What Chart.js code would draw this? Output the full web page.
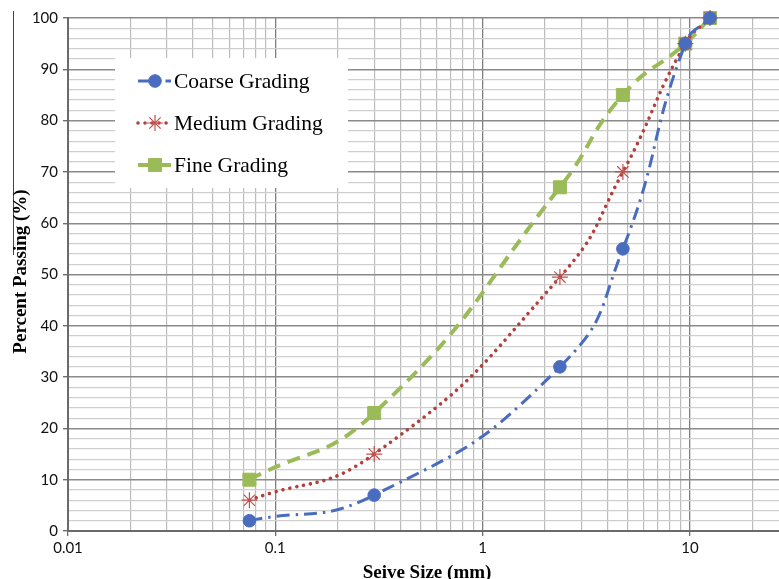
<!DOCTYPE html>
<html><head><meta charset="utf-8">
<script src="https://cdn.jsdelivr.net/npm/chart.js@4.4.1/dist/chart.umd.min.js"></script>
<style>html,body{margin:0;padding:0;background:#fff;overflow:hidden}</style>
</head><body>
<canvas id="c" width="779" height="579" style="display:block;width:779px;height:579px"></canvas>
<script>
// ---- data ----
const sieveSizes = [0.075, 0.3, 2.36, 4.75, 9.5, 12.5];
const coarseGrading = [2, 7, 32, 55, 95, 100];
const mediumGrading = [6, 15, 49.5, 70, 95, 100];
const fineGrading = [10, 23, 67, 85, 95, 100];
const seriesNames = ['Coarse Grading', 'Medium Grading', 'Fine Grading'];
const xTickValues = [0.01,0.02,0.03,0.04,0.05,0.06,0.07,0.08,0.09,
  0.1,0.2,0.3,0.4,0.5,0.6,0.7,0.8,0.9,
  1,2,3,4,5,6,7,8,9,
  10,20];
const xTickLabels = ['0.01', '0.1', '1', '10'];
const yTickLabels = [0, 10, 20, 30, 40, 50, 60, 70, 80, 90, 100];
const xTitle = 'Seive Size (mm)';
const yTitle = 'Percent Passing (%)';

const pts = vals => sieveSizes.map((x, i) => ({x, y: vals[i]}));
const isDecade = v => Math.abs(Math.log10(v) - Math.round(Math.log10(v))) < 1e-9;

const BLUE = '#4a6cbf', RED = '#b1403c', GREEN = '#9bbb59';

const datasets = [
  {label: seriesNames[0], data: pts(coarseGrading), borderColor: BLUE, borderWidth: 3,
   borderDash: [13, 6, 2.5, 6], borderCapStyle: 'butt',
   pointStyle: 'circle', pointRadius: 6.3, pointBackgroundColor: BLUE, pointBorderColor: BLUE, pointBorderWidth: 1},
  {label: seriesNames[1], data: pts(mediumGrading), borderColor: RED, borderWidth: 3.6,
   borderDash: [0.01, 7], borderCapStyle: 'round',
   pointStyle: 'star', pointRadius: 8, pointBackgroundColor: RED, pointBorderColor: '#c0504d', pointBorderWidth: 1.2},
  {label: seriesNames[2], data: pts(fineGrading), borderColor: GREEN, borderWidth: 4,
   borderDash: [13, 8], borderCapStyle: 'butt',
   pointStyle: 'rect', pointRadius: 9.2, pointBackgroundColor: GREEN, pointBorderColor: GREEN, pointBorderWidth: 1}
];
datasets.forEach(d => { d.tension = 0.5; d.clip = false; d.fill = false; d.capBezierPoints = false; });

const decorPlugin = {
  id: 'decor',
  afterDatasetsDraw(chart) {
    const ctx = chart.ctx;
    ctx.save();
    // legend box
    ctx.fillStyle = '#fff';
    ctx.fillRect(115, 58, 233, 130);
    const ys = [81, 123, 165];
    chart.data.datasets.forEach((ds, i) => {
      const y = ys[i];
      ctx.save();
      ctx.strokeStyle = ds.borderColor;
      ctx.lineWidth = ds.borderWidth;
      ctx.lineCap = ds.borderCapStyle;
      ctx.setLineDash(ds.borderDash);
      ctx.beginPath(); ctx.moveTo(138, y); ctx.lineTo(171, y); ctx.stroke();
      ctx.restore();
      ctx.save();
      ctx.fillStyle = ds.pointBackgroundColor;
      ctx.strokeStyle = ds.pointBorderColor;
      ctx.lineWidth = ds.pointBorderWidth;
      Chart.helpers.drawPoint(ctx, {pointStyle: ds.pointStyle, radius: ds.pointRadius, borderWidth: ds.pointBorderWidth, rotation: 0}, 155, y);
      ctx.restore();
      ctx.fillStyle = '#000';
      ctx.font = '21.5px "Liberation Serif"';
      ctx.textBaseline = 'middle';
      ctx.textAlign = 'left';
      ctx.fillText(ds.label, 174, y + 1);
    });
    // thin frame line at far left
    ctx.strokeStyle = '#444';
    ctx.lineWidth = 1;
    ctx.beginPath(); ctx.moveTo(13.5, 11); ctx.lineTo(13.5, 255); ctx.stroke();
    // axis titles
    ctx.fillStyle = '#000';
    ctx.font = 'bold 19px "Liberation Serif"';
    ctx.textAlign = 'center';
    ctx.textBaseline = 'alphabetic';
    ctx.fillText(xTitle, 427, 578);
    ctx.save();
    ctx.translate(25.5, 271.5);
    ctx.rotate(-Math.PI / 2);
    ctx.fillText(yTitle, 0, 0);
    ctx.restore();
    ctx.restore();
  }
};

new Chart(document.getElementById('c'), {
  type: 'line',
  data: {datasets},
  plugins: [decorPlugin],
  options: {
    responsive: false,
    devicePixelRatio: 1,
    animation: false,
    events: [],
    layout: {autoPadding: false, padding: {top: 18, left: 0, right: 0, bottom: 0}},
    plugins: {legend: {display: false}, tooltip: {enabled: false}},
    scales: {
      x: {
        type: 'logarithmic',
        min: 0.01, max: 26.9,
        afterBuildTicks: s => { s.ticks = xTickValues.map(v => ({value: v})); },
        afterFit: s => { s.height = 48; s.paddingLeft = 0; s.paddingRight = 0; },
        ticks: {
          autoSkip: false, maxRotation: 0, padding: 3,
          color: '#111', font: {family: 'Lato', size: 15},
          callback: v => { const l = xTickLabels.find(t => Math.abs(parseFloat(t) - v) < 1e-9); return l || ''; }
        },
        grid: {
          color: c => isDecade(c.tick.value) ? '#7f7f7f' : '#bcbcbc',
          lineWidth: c => isDecade(c.tick.value) ? 1.3 : 1.2,
          tickColor: c => isDecade(c.tick.value) ? '#6f6f6f' : 'rgba(0,0,0,0)',
          tickLength: 5
        },
        border: {color: '#6a6a6a', width: 2}
      },
      y: {
        type: 'linear',
        min: 0, max: 100,
        afterFit: s => { s.width = 68; s.paddingTop = 0; s.paddingBottom = 0; },
        ticks: {
          stepSize: 2, autoSkip: false, padding: 5,
          color: '#111', font: {family: 'Lato', size: 15},
          callback: v => yTickLabels.includes(v) ? String(v) : ''
        },
        grid: {
          color: c => (c.tick.value % 10 === 0) ? '#8a8a8a' : '#cfcfcf',
          lineWidth: c => (c.tick.value % 10 === 0) ? 1.4 : 1.2,
          tickColor: c => (c.tick.value % 10 === 0) ? '#6f6f6f' : 'rgba(0,0,0,0)',
          tickLength: 5
        },
        border: {color: '#6a6a6a', width: 2}
      }
    }
  }
});
</script>
</body></html>
